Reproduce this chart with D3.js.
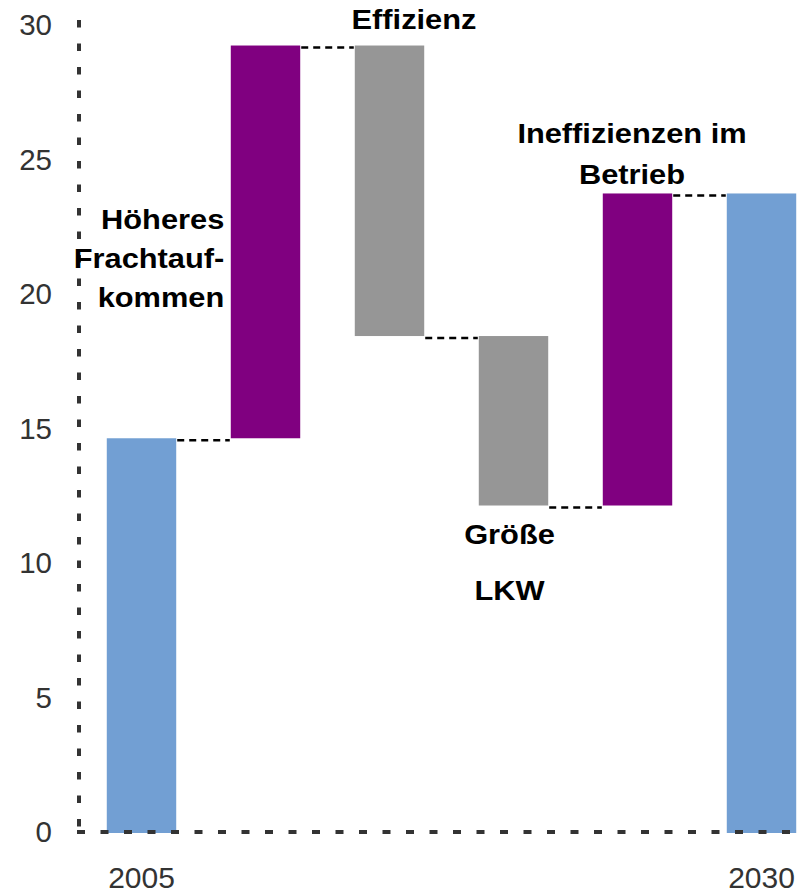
<!DOCTYPE html>
<html>
<head>
<meta charset="utf-8">
<script src="https://cdn.jsdelivr.net/npm/d3@7"></script>
<style>
  html, body { margin: 0; padding: 0; background: #fff; }
  svg { display: block; }
</style>
</head>
<body>
<svg id="chart" width="805" height="893"></svg>
<script>
// Waterfall: freight transport emissions 2005 -> 2030
const categories = ["2005", "Frachtaufkommen", "Effizienz", "Größe LKW", "Ineffizienzen", "2030"];
const kinds      = ["total", "up", "down", "down", "up", "total"];
const changes    = [14.6, 14.6, -10.8, -6.3, 11.6, 23.7];
const yTicks     = [0, 5, 10, 15, 20, 25, 30];
const xTickLabels = ["2005", "", "", "", "", "2030"];

// Text labels attached to the change bars
const barLabels = [
  { cat: "Frachtaufkommen", lines: ["Höheres", "Frachtauf-", "kommen"], side: "left" },
  { cat: "Effizienz", lines: ["Effizienz"], side: "top" },
  { cat: "Größe LKW", lines: ["Größe", "LKW"], side: "bottom" },
  { cat: "Ineffizienzen", lines: ["Ineffizienzen im", "Betrieb"], side: "top" }
];

const colors = { total: "#729fd3", up: "#800080", down: "#969696" };
const FONT = "'Liberation Sans', Arial, sans-serif";

// Running start/end for every bar
let run = 0;
const bars = categories.map((c, i) => {
  let start, end;
  if (kinds[i] === "total") { start = 0; end = changes[i]; run = end; }
  else { start = run; end = run + changes[i]; run = end; }
  return { cat: c, kind: kinds[i], start, end, low: Math.min(start, end), high: Math.max(start, end) };
});

const svg = d3.select("#chart");
const x = d3.scaleBand().domain(categories).range([79.5, 823.5]).paddingInner(0.44).paddingOuter(0.22);
const y = d3.scaleLinear().domain([0, 30]).range([831, 24]);

// Bars
svg.append("g").selectAll("rect").data(bars).join("rect")
  .attr("x", d => x(d.cat))
  .attr("width", x.bandwidth())
  .attr("y", d => y(d.high))
  .attr("height", d => y(d.low) - y(d.high) + (d.low === 0 ? 2 : 0))
  .attr("fill", d => colors[d.kind]);

// Connectors between consecutive bars
const links = bars.slice(0, -1).map((d, i) => ({ from: d.cat, to: bars[i + 1].cat, v: d.end }));
svg.append("g").selectAll("line").data(links).join("line")
  .attr("x1", d => x(d.from) + x.bandwidth() + 1)
  .attr("x2", d => x(d.to) - 1)
  .attr("y1", d => y(d.v) + 2)
  .attr("y2", d => y(d.v) + 2)
  .attr("stroke", "#000")
  .attr("stroke-width", 2.5)
  .attr("stroke-dasharray", "7,5");

// Dotted axes
svg.append("line")
  .attr("x1", 79).attr("x2", 79).attr("y1", 20).attr("y2", 828)
  .attr("stroke", "#333").attr("stroke-width", 4).attr("stroke-dasharray", "7.5,16");
svg.append("line")
  .attr("x1", 77).attr("x2", 805).attr("y1", 832).attr("y2", 832)
  .attr("stroke", "#333").attr("stroke-width", 4).attr("stroke-dasharray", "8,15.5");

// Y tick labels
const yAxis = d3.axisLeft(y).tickValues(yTicks).tickSize(0).tickPadding(0);
const gy = svg.append("g").attr("transform", "translate(52,0)").call(yAxis);
gy.select(".domain").remove();
gy.selectAll("text")
  .attr("font-family", FONT)
  .attr("font-size", 29.5).attr("fill", "#333").attr("dy", "0.36em");

// X tick labels
const xAxis = d3.axisBottom(x).tickFormat((d, i) => xTickLabels[i]).tickSize(0).tickPadding(0);
const gx = svg.append("g").attr("transform", "translate(0,877.5)").call(xAxis);
gx.select(".domain").remove();
gx.selectAll("text")
  .attr("font-family", FONT)
  .attr("font-size", 30).attr("fill", "#333").attr("dy", "0.36em");

// Bar annotations (slightly widened bold type)
const lab = svg.append("g")
  .attr("font-family", FONT)
  .attr("font-size", 28).attr("font-weight", "bold").attr("fill", "#000");

function putText(tx, ty, anchor, t) {
  lab.append("text")
    .attr("transform", `translate(${tx},${ty}) scale(1.1,1)`)
    .attr("text-anchor", anchor).attr("dy", "0.36em").text(t);
}

barLabels.forEach(l => {
  const b = bars.find(d => d.cat === l.cat);
  const cx = x(l.cat) + x.bandwidth() / 2;
  if (l.side === "left") {
    const mid = y((b.low + b.high) / 2);
    l.lines.forEach((t, i) => putText(x(l.cat) - 6.5, mid - 23 + i * 39, "end", t));
  } else if (l.side === "top") {
    const top = y(b.high);
    const n = l.lines.length;
    const dx = n === 1 ? 24.5 : -5.5;
    const off = n === 1 ? 27 : 19.5;
    l.lines.forEach((t, i) => putText(cx + dx, top - off - (n - 1 - i) * 41, "middle", t));
  } else {
    const bottom = y(b.low);
    l.lines.forEach((t, i) => putText(cx - 4, bottom + 28 + i * 56.5, "middle", t));
  }
});
</script>
</body>
</html>
